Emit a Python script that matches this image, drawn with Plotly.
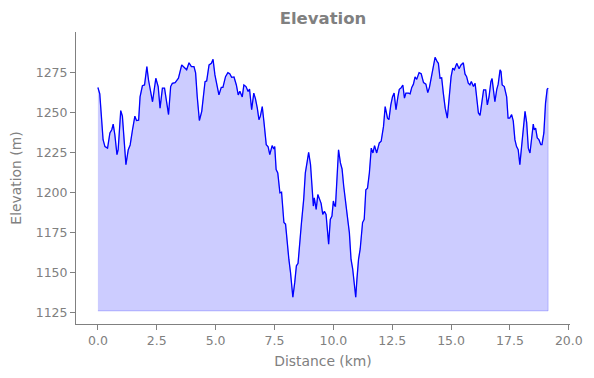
import plotly.graph_objects as go

distance_km = [
    0.00, 0.08, 0.22, 0.30, 0.41, 0.51, 0.59, 0.65, 0.72, 0.81, 0.86, 0.97, 1.04, 1.12, 1.19, 1.29,
    1.37, 1.47, 1.57, 1.64, 1.73, 1.79, 1.89, 1.98, 2.08, 2.15, 2.25, 2.32, 2.46, 2.56, 2.64, 2.74,
    2.83, 2.91, 3.00, 3.09, 3.16, 3.28, 3.42, 3.56, 3.66, 3.77, 3.87, 3.97, 4.08, 4.15, 4.22, 4.31,
    4.41, 4.48, 4.55, 4.62, 4.72, 4.82, 4.89, 4.97, 5.06, 5.14, 5.24, 5.31, 5.42, 5.52, 5.60, 5.68,
    5.78, 5.88, 5.96, 6.03, 6.13, 6.20, 6.29, 6.38, 6.44, 6.53, 6.62, 6.69, 6.77, 6.84, 6.90, 6.98,
    7.05, 7.15, 7.23, 7.30, 7.40, 7.47, 7.51, 7.57, 7.64, 7.73, 7.80, 7.90, 7.97, 8.04, 8.11, 8.18,
    8.28, 8.36, 8.43, 8.50, 8.57, 8.64, 8.74, 8.81, 8.89, 8.95, 9.03, 9.10, 9.15, 9.19, 9.27, 9.34,
    9.40, 9.48, 9.55, 9.62, 9.69, 9.75, 9.80, 9.87, 9.94, 10.00, 10.05, 10.09, 10.16, 10.22, 10.30,
    10.37, 10.44, 10.54, 10.61, 10.68, 10.75, 10.82, 10.90, 10.95, 11.00, 11.07, 11.14, 11.24, 11.31,
    11.38, 11.45, 11.53, 11.61, 11.68, 11.75, 11.84, 11.95, 12.03, 12.13, 12.20, 12.30, 12.36, 12.44,
    12.51, 12.58, 12.66, 12.74, 12.80, 12.87, 12.95, 13.02, 13.08, 13.19, 13.26, 13.33, 13.40, 13.47,
    13.54, 13.64, 13.73, 13.83, 13.93, 14.01, 14.08, 14.18, 14.25, 14.32, 14.41, 14.46, 14.53, 14.60,
    14.67, 14.75, 14.84, 14.93, 15.00, 15.07, 15.14, 15.24, 15.34, 15.42, 15.52, 15.59, 15.66, 15.73,
    15.80, 15.86, 15.95, 16.02, 16.09, 16.16, 16.23, 16.30, 16.38, 16.47, 16.54, 16.61, 16.69, 16.74,
    16.82, 16.86, 16.94, 17.00, 17.08, 17.12, 17.17, 17.26, 17.36, 17.42, 17.49, 17.57, 17.64, 17.71,
    17.78, 17.85, 17.92, 17.99, 18.06, 18.14, 18.21, 18.28, 18.35, 18.42, 18.49, 18.53, 18.59, 18.66,
    18.73, 18.81, 18.86, 18.94, 19.01, 19.08, 19.12,
]

elevation_m = [
    1265.9, 1262.0, 1233.3, 1229.0, 1228.0, 1237.5, 1239.5, 1243.0, 1236.4, 1224.0, 1227.0, 1251.5,
    1248.0, 1231.0, 1217.7, 1227.0, 1230.0, 1239.5, 1248.0, 1245.3, 1245.5, 1260.0, 1267.0, 1267.5,
    1279.0, 1270.6, 1262.4, 1257.0, 1271.7, 1266.5, 1253.0, 1265.5, 1265.5, 1256.0, 1249.0, 1266.5,
    1268.5, 1269.0, 1271.7, 1280.0, 1278.5, 1277.0, 1281.4, 1279.0, 1279.0, 1275.0, 1260.0, 1245.3,
    1251.0, 1260.0, 1269.6, 1270.0, 1280.0, 1281.0, 1283.5, 1273.8, 1267.5, 1261.3, 1266.0, 1266.0,
    1272.7, 1275.2, 1274.5, 1272.3, 1272.5, 1267.5, 1261.3, 1263.5, 1260.0, 1267.5, 1266.5, 1263.4,
    1265.0, 1252.0, 1262.4, 1259.0, 1253.0, 1245.8, 1248.0, 1254.0, 1244.7, 1230.2, 1228.8, 1224.0,
    1229.6, 1227.5, 1229.0, 1214.6, 1212.5, 1200.1, 1200.5, 1181.5, 1180.5, 1167.0, 1158.6, 1150.4,
    1134.8, 1144.1, 1154.5, 1156.0, 1171.0, 1180.4, 1196.0, 1212.6, 1219.8, 1225.4, 1217.8, 1198.0,
    1191.8, 1197.0, 1189.7, 1199.0, 1196.0, 1193.5, 1186.6, 1188.5, 1186.6, 1175.2, 1168.0, 1183.5,
    1185.5, 1195.0, 1192.0, 1191.8, 1216.7, 1227.0, 1218.8, 1215.0, 1204.2, 1189.7, 1183.5, 1175.2,
    1158.6, 1152.6, 1140.0, 1134.8, 1146.0, 1158.6, 1165.0, 1181.5, 1183.5, 1202.0, 1203.0, 1212.6,
    1228.0, 1225.0, 1229.6, 1225.0, 1231.3, 1232.3, 1241.6, 1254.0, 1246.8, 1245.8, 1255.0, 1260.0,
    1262.4, 1252.0, 1260.0, 1264.8, 1265.5, 1267.5, 1259.3, 1262.4, 1262.4, 1262.0, 1266.0, 1268.0,
    1272.5, 1271.0, 1275.2, 1274.5, 1269.0, 1268.0, 1262.7, 1266.0, 1273.8, 1280.0, 1284.8, 1282.0,
    1281.0, 1271.7, 1272.0, 1262.4, 1253.0, 1246.8, 1260.3, 1272.7, 1278.0, 1277.0, 1281.0, 1277.6,
    1280.0, 1281.4, 1274.4, 1272.7, 1268.6, 1267.6, 1269.6, 1266.5, 1268.6, 1260.0, 1250.0, 1248.5,
    1255.0, 1264.4, 1264.4, 1255.0, 1260.0, 1269.6, 1271.5, 1262.5, 1257.0, 1264.8, 1268.0, 1277.0,
    1276.0, 1267.5, 1266.5, 1260.0, 1246.8, 1246.8, 1249.0, 1245.0, 1233.3, 1229.0, 1227.0, 1217.7,
    1227.0, 1239.5, 1251.0, 1244.0, 1228.0, 1225.0, 1235.4, 1243.0, 1239.5, 1240.5, 1234.4, 1233.3,
    1230.2, 1230.2, 1237.5, 1256.0, 1264.8, 1265.5,
]

fill_base_m = 1126.3

x_tick_vals = [0, 2.5, 5, 7.5, 10, 12.5, 15, 17.5, 20]
y_tick_vals = [1125, 1150, 1175, 1200, 1225, 1250, 1275]

GRAY = "#808080"
FONT = "DejaVu Sans"

poly_x = distance_km + [distance_km[-1], distance_km[0]]
poly_y = elevation_m + [fill_base_m, fill_base_m]

fig = go.Figure()
fig.add_trace(go.Scatter(
    x=poly_x, y=poly_y, mode="lines", fill="toself",
    fillcolor="rgba(0,0,255,0.2)",
    line=dict(color="rgba(0,0,255,0.2)", width=1),
    hoverinfo="skip", showlegend=False,
))
fig.add_trace(go.Scatter(
    x=distance_km, y=elevation_m, mode="lines",
    line=dict(color="#0000ff", width=1.3),
    showlegend=False,
))

fig.update_layout(
    width=594, height=378,
    margin=dict(l=76, r=24, t=32, b=54, autoexpand=False),
    paper_bgcolor="white", plot_bgcolor="white",
    font=dict(family=FONT, color=GRAY, size=12.5),
    title=dict(text="<b>Elevation</b>", x=323 / 594, xref="container",
               xanchor="center", y=1 - 18 / 378, yref="container", yanchor="middle",
               font=dict(family=FONT, size=16.5, color=GRAY)),
)

fig.update_xaxes(
    range=[-0.93, 20.05], showgrid=False, zeroline=False, automargin=False,
    showline=True, linecolor=GRAY, linewidth=1, mirror=False,
    ticks="outside", ticklen=5, tickwidth=1, tickcolor=GRAY,
    tickvals=x_tick_vals, tickformat=".1f",
    tickfont=dict(family=FONT, size=12.5, color=GRAY),
    title=dict(text="Distance (km)", font=dict(family=FONT, size=13.9, color=GRAY), standoff=9),
)
fig.update_yaxes(
    range=[1118.1, 1300.6], showgrid=False, zeroline=False, automargin=False,
    showline=True, linecolor=GRAY, linewidth=1, mirror=False,
    ticks="outside", ticklen=5, tickwidth=1, tickcolor=GRAY,
    tickvals=y_tick_vals,
    tickfont=dict(family=FONT, size=12.5, color=GRAY),
    title=dict(text="Elevation (m)", font=dict(family=FONT, size=13.9, color=GRAY), standoff=10),
)

fig.write_html("out.html", config={"displayModeBar": False},
               post_script="document.body.style.margin='0';")
